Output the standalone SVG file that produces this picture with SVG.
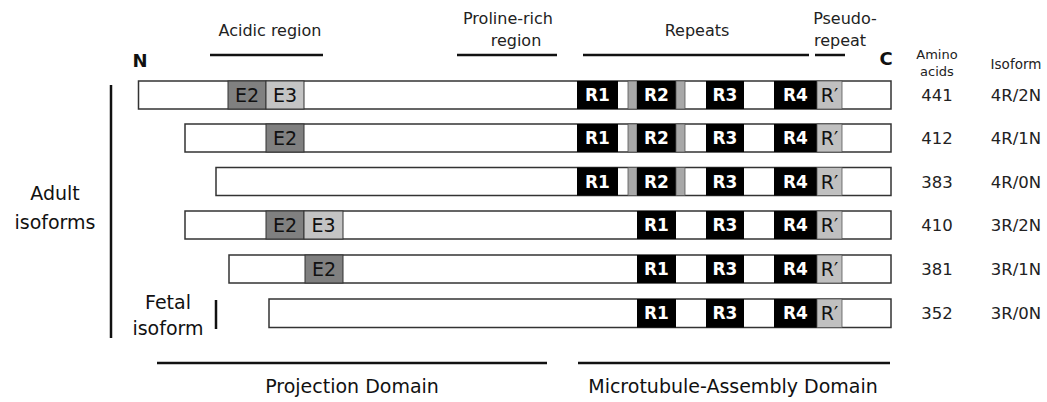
<svg xmlns="http://www.w3.org/2000/svg" width="1047" height="402" viewBox="0 0 1047 402">
<style>
.bar{fill:#fff;stroke:#333;stroke-width:1.5}
.e2{fill:#808080;stroke:#333;stroke-width:1}
.e3{fill:#c4c4c4;stroke:#333;stroke-width:1}
.r{fill:#000}
.rg{fill:#a8a8a8;stroke:#555;stroke-width:0.8}
.rp{fill:#c0c0c0;stroke:#555;stroke-width:0.8}
.t{font-family:"DejaVu Sans",sans-serif}
.hd{font-family:"DejaVu Sans",sans-serif;font-size:16px;fill:#222;text-anchor:middle}
.blk{font-family:"DejaVu Sans",sans-serif;font-size:19px;fill:#111;text-anchor:middle}
.wt{font-family:"DejaVu Sans",sans-serif;font-size:17px;font-weight:bold;fill:#fff;text-anchor:middle}
.num{font-family:"DejaVu Sans",sans-serif;font-size:16.5px;fill:#222;text-anchor:middle}
.lb{font-family:"DejaVu Sans",sans-serif;font-size:19px;fill:#111;text-anchor:middle}
.ln{stroke:#111;stroke-width:2.5;fill:none}
</style>
<g id="brackets">
<line class="ln" x1="210" y1="55" x2="323" y2="55"/>
<line class="ln" x1="457" y1="55" x2="557" y2="55"/>
<line class="ln" x1="583" y1="55" x2="809" y2="55"/>
<line class="ln" x1="815" y1="55" x2="845" y2="55"/>
<line class="ln" x1="111" y1="85" x2="111" y2="338"/>
<line class="ln" x1="216" y1="300" x2="216" y2="329"/>
<line class="ln" x1="157" y1="363" x2="547" y2="363"/>
<line class="ln" x1="578" y1="363" x2="890" y2="363"/>
</g>
<g id="headers">
<text class="hd" x="270" y="36">Acidic region</text>
<text class="hd" x="508" y="24">Proline-rich</text>
<text class="hd" x="516" y="46">region</text>
<text class="hd" x="697" y="36">Repeats</text>
<text class="hd" x="845" y="24">Pseudo-</text>
<text class="hd" x="840" y="46">repeat</text>
<text class="t" x="140" y="67" font-size="18" font-weight="bold" fill="#111" text-anchor="middle">N</text>
<text class="t" x="886" y="65" font-size="18" font-weight="bold" fill="#111" text-anchor="middle">C</text>
<text class="t" x="937" y="59" font-size="13" fill="#222" text-anchor="middle">Amino</text>
<text class="t" x="937" y="76" font-size="13" fill="#222" text-anchor="middle">acids</text>
<text class="t" x="1016" y="69" font-size="13.5" fill="#222" text-anchor="middle">Isoform</text>
</g>
<g id="group-labels">
<text class="lb" x="55" y="200">Adult</text>
<text class="lb" x="55" y="229">isoforms</text>
<text class="lb" x="168" y="309">Fetal</text>
<text class="lb" x="168" y="335">isoform</text>
</g>
<g id="iso-441">
<rect class="bar" x="138.5" y="81" width="752.5" height="28"/>
<rect class="e2" x="228" y="81" width="38" height="28"/><text class="blk" x="247" y="102">E2</text>
<rect class="e3" x="266" y="81" width="38" height="28"/><text class="blk" x="285" y="102">E3</text>
<rect class="r" x="577" y="81" width="41" height="28"/><text class="wt" x="597.5" y="101">R1</text>
<rect class="rg" x="628" y="81" width="9" height="28"/>
<rect class="r" x="637" y="81" width="39" height="28"/><text class="wt" x="656.5" y="101">R2</text>
<rect class="rg" x="676" y="81" width="9" height="28"/>
<rect class="r" x="706" y="81" width="38" height="28"/><text class="wt" x="725" y="101">R3</text>
<rect class="r" x="774" y="81" width="43" height="28"/><text class="wt" x="795.5" y="101">R4</text>
<rect class="rp" x="817" y="81" width="25" height="28"/><text class="blk" x="829.5" y="102">R′</text>
<text class="num" x="937" y="101">441</text><text class="num" x="1016" y="101">4R/2N</text>
</g>
<g id="iso-412">
<rect class="bar" x="185" y="124" width="706" height="28"/>
<rect class="e2" x="266" y="124" width="38" height="28"/><text class="blk" x="285" y="145">E2</text>
<rect class="r" x="577" y="124" width="41" height="28"/><text class="wt" x="597.5" y="144">R1</text>
<rect class="rg" x="628" y="124" width="9" height="28"/>
<rect class="r" x="637" y="124" width="39" height="28"/><text class="wt" x="656.5" y="144">R2</text>
<rect class="rg" x="676" y="124" width="9" height="28"/>
<rect class="r" x="706" y="124" width="38" height="28"/><text class="wt" x="725" y="144">R3</text>
<rect class="r" x="774" y="124" width="43" height="28"/><text class="wt" x="795.5" y="144">R4</text>
<rect class="rp" x="817" y="124" width="25" height="28"/><text class="blk" x="829.5" y="145">R′</text>
<text class="num" x="937" y="144">412</text><text class="num" x="1016" y="144">4R/1N</text>
</g>
<g id="iso-383">
<rect class="bar" x="216" y="167.5" width="675" height="28"/>
<rect class="r" x="577" y="167.5" width="41" height="28"/><text class="wt" x="597.5" y="187.5">R1</text>
<rect class="rg" x="628" y="167.5" width="9" height="28"/>
<rect class="r" x="637" y="167.5" width="39" height="28"/><text class="wt" x="656.5" y="187.5">R2</text>
<rect class="rg" x="676" y="167.5" width="9" height="28"/>
<rect class="r" x="706" y="167.5" width="38" height="28"/><text class="wt" x="725" y="187.5">R3</text>
<rect class="r" x="774" y="167.5" width="43" height="28"/><text class="wt" x="795.5" y="187.5">R4</text>
<rect class="rp" x="817" y="167.5" width="25" height="28"/><text class="blk" x="829.5" y="188.5">R′</text>
<text class="num" x="937" y="187.5">383</text><text class="num" x="1016" y="187.5">4R/0N</text>
</g>
<g id="iso-410">
<rect class="bar" x="185" y="211" width="706" height="28"/>
<rect class="e2" x="266" y="211" width="38" height="28"/><text class="blk" x="285" y="232">E2</text>
<rect class="e3" x="304" y="211" width="39" height="28"/><text class="blk" x="323.5" y="232">E3</text>
<rect class="r" x="637" y="211" width="39" height="28"/><text class="wt" x="656.5" y="231">R1</text>
<rect class="r" x="706" y="211" width="38" height="28"/><text class="wt" x="725" y="231">R3</text>
<rect class="r" x="774" y="211" width="43" height="28"/><text class="wt" x="795.5" y="231">R4</text>
<rect class="rp" x="817" y="211" width="25" height="28"/><text class="blk" x="829.5" y="232">R′</text>
<text class="num" x="937" y="231">410</text><text class="num" x="1016" y="231">3R/2N</text>
</g>
<g id="iso-381">
<rect class="bar" x="229" y="255" width="662" height="28"/>
<rect class="e2" x="305" y="255" width="38" height="28"/><text class="blk" x="324" y="276">E2</text>
<rect class="r" x="637" y="255" width="39" height="28"/><text class="wt" x="656.5" y="275">R1</text>
<rect class="r" x="706" y="255" width="38" height="28"/><text class="wt" x="725" y="275">R3</text>
<rect class="r" x="774" y="255" width="43" height="28"/><text class="wt" x="795.5" y="275">R4</text>
<rect class="rp" x="817" y="255" width="25" height="28"/><text class="blk" x="829.5" y="276">R′</text>
<text class="num" x="937" y="275">381</text><text class="num" x="1016" y="275">3R/1N</text>
</g>
<g id="iso-352">
<rect class="bar" x="269" y="299" width="622" height="28.5"/>
<rect class="r" x="637" y="299" width="39" height="28.5"/><text class="wt" x="656.5" y="319">R1</text>
<rect class="r" x="706" y="299" width="38" height="28.5"/><text class="wt" x="725" y="319">R3</text>
<rect class="r" x="774" y="299" width="43" height="28.5"/><text class="wt" x="795.5" y="319">R4</text>
<rect class="rp" x="817" y="299" width="25" height="28.5"/><text class="blk" x="829.5" y="320">R′</text>
<text class="num" x="937" y="319">352</text><text class="num" x="1016" y="319">3R/0N</text>
</g>
<g id="domains">
<text class="t" x="352" y="393" font-size="19" fill="#111" text-anchor="middle">Projection Domain</text>
<text class="t" x="733" y="393" font-size="19" fill="#111" text-anchor="middle">Microtubule-Assembly Domain</text>
</g>
</svg>
